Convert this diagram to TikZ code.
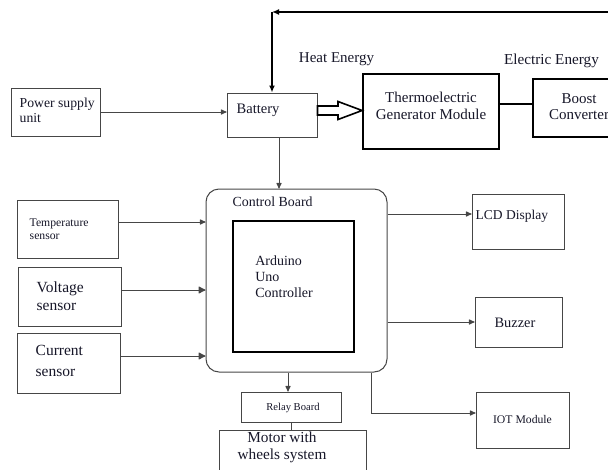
\documentclass[tikz,border=0pt]{standalone}
\usepackage{fontspec}
\setmainfont{Liberation Serif}
\usepackage{xcolor}
\usetikzlibrary{arrows.meta, positioning, calc}

\definecolor{ink}{RGB}{22,22,40}
\definecolor{edge}{RGB}{70,70,70}
\newcommand{\fsz}[2]{\fontsize{#1}{#2}\selectfont}

\tikzset{
  box/.style={draw=edge, line width=1pt, inner sep=0pt},
  heavy/.style={draw=black, line width=1.8pt, inner sep=0pt},
  lbl/.style={text=ink, inner sep=0pt, align=left},
  clbl/.style={text=ink, inner sep=0pt, align=center},
  conn/.style={draw=edge, line width=1pt, -{Latex[length=7pt,width=6pt,round]}},
  bigconn/.style={conn, -{Latex[length=8pt,width=8pt,round]}},
  wire/.style={draw=edge, line width=1pt},
  fb/.style={draw=black, line width=1.4pt, -{Latex[length=7pt,width=6pt]}},
  hollow/.style={draw=black, fill=white, line width=1.6pt, line join=miter},
}

\begin{document}
\begin{tikzpicture}[x=1pt, y=-1pt]
  \useasboundingbox (0,0) rectangle (608,469);
  \clip (0,0) rectangle (608,469);
  % Top row: supply, battery, generator, converter
  \node[box, minimum width=89pt, minimum height=48pt,
    label={[lbl, font=\fsz{13.7}{15}, anchor=west, xshift=9pt, yshift=1.5pt]west:Power supply\\unit}]
    (psu) at (55.5,112) {};
  \node[box, minimum width=90pt, minimum height=44pt,
    label={[lbl, font=\fsz{14.5}{17}, anchor=west, xshift=10pt, yshift=5pt]west:Battery}]
    (batt) at (272,115) {};
  \node[heavy, minimum width=136pt, minimum height=75pt,
    label={[clbl, font=\fsz{15}{17}, yshift=6pt]center:Thermoelectric\\Generator Module}]
    (tgm) at (431,111.5) {};
  \node[heavy, minimum width=92pt, minimum height=58pt,
    label={[clbl, font=\fsz{15}{16}, yshift=1pt]center:Boost\\Converter}]
    (boost) at (579,108) {};
  \node[text=ink, font=\fsz{15}{17}] (heat) at (336.5,59) {Heat Energy};
  \node[text=ink, font=\fsz{15.2}{17}] (elec) at (551.5,61) {Electric Energy};

  % Sensors on the left
  \node[box, minimum width=101pt, minimum height=58pt,
    label={[lbl, font=\fsz{11.7}{13}, anchor=west, xshift=13pt]west:Temperature\\sensor}]
    (temp) at (67.5,229) {};
  \node[box, minimum width=103pt, minimum height=59pt,
    label={[lbl, font=\fsz{15.5}{18}, anchor=west, xshift=19pt]west:Voltage\\sensor}]
    (volt) at (69.5,296.5) {};
  \node[box, minimum width=103pt, minimum height=60pt,
    label={[lbl, font=\fsz{15.5}{21}, anchor=west, xshift=19pt, yshift=2.5pt]west:Current\\sensor}]
    (curr) at (68.5,363) {};

  % Control board with the Arduino inside
  \node[box, rounded corners=13pt, minimum width=181pt, minimum height=183pt,
    label={[lbl, font=\fsz{13.9}{16}, anchor=north west, xshift=27pt, yshift=-8pt]north west:Control Board}]
    (ctl) at (296.5,280.5) {};
  \node[heavy, minimum width=121pt, minimum height=131pt,
    label={[lbl, font=\fsz{14}{16}, anchor=west, xshift=23pt, yshift=9.5pt]west:Arduino\\Uno\\Controller}]
    (ardu) at (293.5,286.5) {};

  % Outputs
  \node[box, minimum width=92pt, minimum height=55pt,
    label={[lbl, font=\fsz{13.5}{15}, anchor=west, xshift=4pt, yshift=5.5pt]west:LCD Display}]
    (lcd) at (518,221.5) {};
  \node[box, minimum width=87pt, minimum height=50pt,
    label={[clbl, font=\fsz{14.4}{16}, xshift=-3.5pt, yshift=-1pt]center:Buzzer}]
    (buz) at (518.5,322) {};
  \node[box, minimum width=93pt, minimum height=56pt,
    label={[clbl, font=\fsz{11.7}{13}, yshift=1pt]center:IOT Module}]
    (iot) at (522.5,420) {};
  \node[box, minimum width=100pt, minimum height=30pt,
    label={[clbl, font=\fsz{10.6}{12}, xshift=2pt, yshift=-1pt]center:Relay Board}]
    (relay) at (291,407) {};
  \node[box, minimum width=147pt, minimum height=48pt,
    label={[clbl, font=\fsz{15.3}{17}, xshift=-10.5pt, yshift=6.5pt]center:Motor with\\wheels system}]
    (motor) at (292.5,454) {};

  % Connectors
  \draw[conn] (psu.east) -- (psu.east -| batt.west);
  \coordinate (b1) at ([xshift=7pt]batt.south);
  \draw[conn] (b1) -- (b1 |- ctl.north);
  \draw[hollow] (batt.east |- 0,106) -- (338,106) -- (338,101.5) -- (tgm.west |- 0,110.5)
    -- (338,119.5) -- (338,115) -- (batt.east |- 0,115) -- cycle;
  \coordinate (g1) at ([yshift=7.5pt]tgm.east);
  \draw[black, line width=1.6pt] (g1) -- (g1 -| boost.west);
  % Feedback to battery
  \coordinate (fbc) at (batt.north |- 0,12);
  \draw[fb] (boost.east) -- ++(15,0) |- (fbc);
  \draw[fb] (fbc) -- (batt.north);

  \coordinate (t1) at ([yshift=7pt]temp.east);
  \draw[conn] (t1) -- (t1 -| ctl.west);
  \coordinate (v1) at ([yshift=6.5pt]volt.east);
  \draw[bigconn] (v1) -- (v1 -| ctl.west);
  \coordinate (c1) at ([yshift=7pt]curr.east);
  \draw[bigconn] (c1) -- (c1 -| ctl.west);

  \coordinate (l1) at ([yshift=7.5pt]lcd.west);
  \draw[conn] (ctl.east |- l1) -- (l1);
  \draw[conn] (ctl.east |- buz.west) -- (buz.west);
  \coordinate (i1) at ([xshift=74.5pt]ctl.south);
  \coordinate (i2) at ([yshift=7pt]iot.west);
  \draw[conn] (i1) |- (i2);

  \coordinate (r1) at ([xshift=-8.5pt]ctl.south);
  \draw[conn] (r1) -- (r1 |- relay.north);
  \draw[wire] (relay.south) -- (relay.south |- motor.north);
\end{tikzpicture}
\end{document}
